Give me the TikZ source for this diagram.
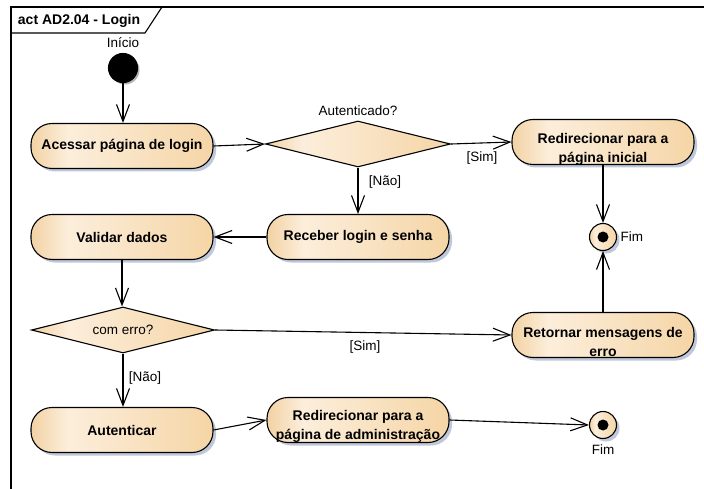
\documentclass[tikz,border=0pt]{standalone}
\usepackage{fontspec}
\setmainfont{Liberation Sans}
\usetikzlibrary{arrows.meta,shapes.geometric,shadows}

\definecolor{tanL}{HTML}{F2D2A4}
\definecolor{tanM}{HTML}{FCEEDB}
\definecolor{tanR}{HTML}{F5D5A6}
\definecolor{shadowc}{HTML}{BFC7DA}

% the path is mapped onto the 25bp--75bp band of the shading
\pgfdeclarehorizontalshading{actfill}{100bp}{color(0bp)=(tanL); color(25bp)=(tanL); color(35bp)=(tanM); color(75bp)=(tanR); color(100bp)=(tanR)}

\tikzset{
  actshadow/.style={drop shadow={shadow xshift=3pt,shadow yshift=-3pt,fill=shadowc,opacity=1}},
  action/.style={draw, rounded corners=21pt, minimum width=182pt, minimum height=45pt,
    inner sep=0pt, shading=actfill, actshadow,
    font=\bfseries\fontsize{14}{18.5}\selectfont, align=center},
  btext/.style={inner sep=0pt, font=\bfseries\fontsize{14}{18.5}\selectfont, align=center},
  decision/.style={draw, diamond, inner sep=0pt, shading=actfill},
  ltext/.style={inner sep=0pt, font=\fontsize{13.5}{16}\selectfont},
  startnode/.style={circle, fill=black, draw=black, minimum size=29pt, inner sep=0pt,
    drop shadow={shadow xshift=2pt,shadow yshift=-2pt,fill=gray!60,opacity=1}},
  endnode/.style={circle, draw, minimum size=27pt, inner sep=0pt, shading=actfill, actshadow},
  flow/.style={-{Straight Barb[length=17pt,width=13pt]}},
}

\begin{document}
\begin{tikzpicture}[x=1pt,y=-1pt,line width=1.1pt]
\useasboundingbox[fill=white] (0,0) rectangle (704,489);

% frame and title tab
\draw (11,489) -- (11,7) -- (704,7);
\draw (11,33) -- (145,33) -- (162,7);
\node[btext] (title) at (79,20.5) {act AD2.04 - Login};

% initial node
\node[startnode] (start) at (123,68) {};
\node[ltext] (startlbl) at (123,43) {Início};

% actions
\node[action] (acessar) at (122,146) {Acessar página de login};
\node[action] (inicial) at (603,142) {};
\node[btext] (inicialtxt) at (603,149.5) {Redirecionar para a\\página inicial};
\node[action] (receber) at (358,237) {Receber login e senha};
\node[action] (validar) at (122,237) {Validar dados};
\node[action] (retornar) at (603,335) {};
\node[btext] (retornartxt) at (603,342) {Retornar mensagens de\\erro};
\node[action] (autenticar) at (122,430) {Autenticar};
\node[action] (admin) at (358,420) {};
\node[btext] (admintxt) at (358,426.5) {Redirecionar para a\\página de administração};

% decisions
\node[decision, minimum width=185pt, minimum height=46pt] (auth) at (358,144) {};
\node[ltext] (authlbl) at (358,111) {Autenticado?};
\node[decision, minimum width=183pt, minimum height=46pt] (erro) at (123,330) {};
\node[ltext] (errolbl) at (123,330) {com erro?};

% final nodes
\node[endnode] (fim1) at (603,237) {};
\fill (fim1) circle[radius=5.5pt];
\node[ltext, anchor=west] (fim1lbl) at (620,237) {Fim};
\node[endnode] (fim2) at (603,425) {};
\fill (fim2) circle[radius=5.5pt];
\node[ltext] (fim2lbl) at (603,450) {Fim};

% control flows
\draw[flow] (start) -- (start |- acessar.north);
\draw[flow] (acessar.east) -- (auth.west);
\draw[flow] (auth.east) -- (inicial.west);
\node[ltext] (simA) at (482,158) {[Sim]};
\draw[flow] (auth.south) -- (receber.north);
\node[ltext] (naoA) at (385,182) {[Não]};
\draw[flow] (receber.west) -- (validar.east);
\draw[flow] (validar.south) -- (validar.south |- erro.north);
\draw[flow] (erro.east) -- (retornar.west);
\node[ltext] (simB) at (365,347) {[Sim]};
\draw[flow] (erro.south) -- (erro.south |- autenticar.north);
\node[ltext] (naoB) at (145,378) {[Não]};
\draw[flow] (autenticar.east) -- (admin.west);
\draw[flow] (admin.east) -- (fim2.west);
\draw[flow] (inicial.south) -- (fim1.north);
\draw[flow] (retornar.north) -- (fim1.south);
\end{tikzpicture}
\end{document}
